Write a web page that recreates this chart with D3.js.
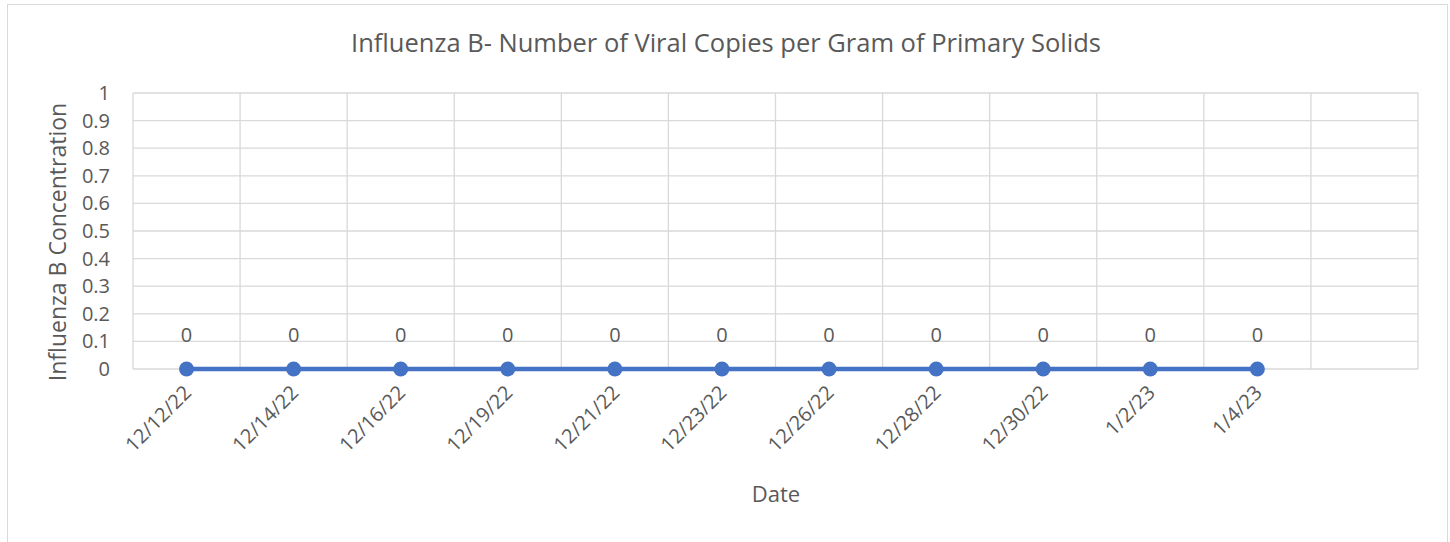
<!DOCTYPE html>
<meta charset="utf-8">
<html>
<head>
<title>Influenza B</title>
<style>
  body { margin: 0; background: #fff; }
  text { font-family: "Open Sans", "Liberation Sans", sans-serif; fill: #595959; }
</style>
<script src="https://cdn.jsdelivr.net/npm/d3@7"></script>
</head>
<body>
<script>
// chart data
var dates = ["12/12/22","12/14/22","12/16/22","12/19/22","12/21/22","12/23/22","12/26/22","12/28/22","12/30/22","1/2/23","1/4/23",""]
var values = [0,0,0,0,0,0,0,0,0,0,0]
var yTicks = [0,0.1,0.2,0.3,0.4,0.5,0.6,0.7,0.8,0.9,1]

var svgWidth = 1450, svgHeight = 542
var margin = {top: 93, left: 133, right: 32, bottom: 173}
var width = svgWidth - margin.left - margin.right
var height = svgHeight - margin.top - margin.bottom

var svg = d3.select("body").append("svg")
    .attr("width", svgWidth)
    .attr("height", svgHeight)

// chart border
svg.append("rect")
    .attr("x", 7.5).attr("y", 4.5)
    .attr("width", 1440).attr("height", 560)
    .attr("fill", "none")
    .attr("stroke", "#d9d9d9")

svg.append("text")
    .attr("x", 726).attr("y", 52)
    .attr("text-anchor", "middle")
    .style("font-size", "25.5px")
    .text("Influenza B- Number of Viral Copies per Gram of Primary Solids")

var g = svg.append("g")
    .attr("transform", "translate(" + margin.left + "," + margin.top + ")")

var x = d3.scaleBand().domain(dates.map((d, i) => i)).range([0, width])
var y = d3.scaleLinear().domain([0, 1]).range([height, 0])

// gridlines
g.selectAll(".hgrid").data(yTicks).enter().append("line")
    .attr("x1", 0).attr("x2", width)
    .attr("y1", d => y(d)).attr("y2", d => y(d))
    .attr("stroke", "#d9d9d9").attr("stroke-width", 1.3)
g.selectAll(".vgrid").data(d3.range(dates.length + 1)).enter().append("line")
    .attr("x1", d => d * x.step()).attr("x2", d => d * x.step())
    .attr("y1", 0).attr("y2", height)
    .attr("stroke", "#d9d9d9").attr("stroke-width", 1.3)

// y axis
var yAxis = g.append("g")
    .call(d3.axisLeft(y).tickValues(yTicks).tickFormat(d => d).tickSize(0).tickPadding(23))
yAxis.select(".domain").remove()
yAxis.selectAll("text").style("font-size", "20px").attr("fill", "#595959")

// x axis
var xAxis = g.append("g")
    .attr("transform", "translate(0," + height + ")")
    .call(d3.axisBottom(x).tickFormat(i => dates[i]).tickSize(0))
xAxis.select(".domain").remove()
xAxis.selectAll("text")
    .style("font-size", "20px")
    .attr("fill", "#595959")
    .attr("text-anchor", "end")
    .attr("y", 0)
    .attr("dy", 0)
    .attr("transform", "translate(6,25) rotate(-45)")

// axis titles
svg.append("text")
    .attr("transform", "translate(66,242) rotate(-90)")
    .attr("text-anchor", "middle")
    .style("font-size", "23px")
    .text("Influenza B Concentration")
svg.append("text")
    .attr("x", 776).attr("y", 502)
    .attr("text-anchor", "middle")
    .style("font-size", "22px")
    .text("Date")

// series
var cx = (d, i) => x(i) + x.bandwidth() / 2
var line = d3.line().x(cx).y(d => y(d))
g.append("path").datum(values)
    .attr("d", line)
    .attr("fill", "none")
    .attr("stroke", "#4472c4")
    .attr("stroke-width", 4.5)
g.selectAll(".dot").data(values).enter().append("circle")
    .attr("cx", cx).attr("cy", d => y(d))
    .attr("r", 7.5)
    .attr("fill", "#4472c4")
g.selectAll(".lbl").data(values).enter().append("text")
    .attr("x", cx).attr("y", d => y(d) - 27)
    .attr("text-anchor", "middle")
    .style("font-size", "20px")
    .attr("fill", "#404040")
    .text(d => d)
</script>
</body>
</html>
